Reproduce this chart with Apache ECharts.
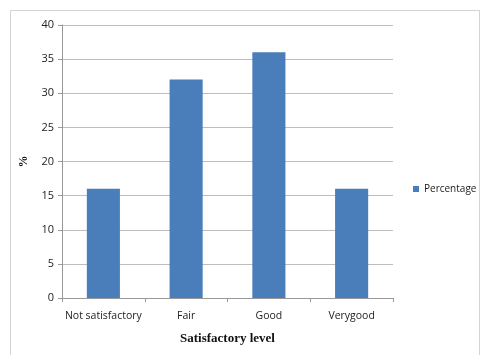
<!DOCTYPE html>
<html>
<head>
<meta charset="utf-8">
<script src="https://cdn.jsdelivr.net/npm/echarts@6/dist/echarts.min.js"></script>
<style>
  html, body { margin: 0; padding: 0; background: #fff; }
  #frame { position: absolute; left: 10px; top: 10px; width: 470px; height: 350px; border: 1px solid #d4d4d4; box-sizing: border-box; }
  #chart { position: absolute; left: 0; top: 0; width: 481px; height: 355px; }
</style>
</head>
<body>
<div id="frame"></div>
<div id="chart"></div>
<script>
const categories = ['Not satisfactory', 'Fair', 'Good', 'Verygood'];
const percentage = [16, 32, 36, 16];
const yTicks = { min: 0, max: 40, interval: 5 };

const chart = echarts.init(document.getElementById('chart'), null, { renderer: 'canvas' });
chart.setOption({
  animation: false,
  backgroundColor: 'transparent',
  textStyle: { fontFamily: '"Open Sans", "Noto Sans", sans-serif' },
  grid: { left: 62, right: 88, top: 25, bottom: 57 },
  legend: {
    data: ['Percentage'],
    left: 408, top: 179,
    itemWidth: 6, itemHeight: 6, itemGap: 3,
    icon: 'rect',
    textStyle: { fontSize: 10, color: '#222' }
  },
  xAxis: {
    type: 'category',
    data: categories,
    name: 'Satisfactory level',
    nameLocation: 'middle',
    nameGap: 34,
    nameTextStyle: { fontFamily: '"Liberation Serif", "DejaVu Serif", serif', fontWeight: 'bold', fontSize: 13, color: '#111' },
    axisLine: { lineStyle: { color: '#999' } },
    axisTick: { show: true, length: 4, lineStyle: { color: '#999' } },
    axisLabel: { interval: 0, fontSize: 10.5, color: '#222', margin: 13 }
  },
  yAxis: {
    type: 'value',
    min: yTicks.min, max: yTicks.max, interval: yTicks.interval,
    name: '%',
    nameLocation: 'middle',
    nameGap: 32,
    nameRotate: 90,
    nameTextStyle: { fontFamily: '"Liberation Serif", "DejaVu Serif", serif', fontWeight: 'bold', fontSize: 12, color: '#111' },
    axisLine: { show: true, lineStyle: { color: '#999' } },
    axisTick: { show: true, length: 4, lineStyle: { color: '#999' } },
    axisLabel: { fontSize: 11, color: '#222', margin: 8 },
    splitLine: { lineStyle: { color: '#bdbdbd' } }
  },
  series: [{
    name: 'Percentage',
    type: 'bar',
    data: percentage,
    barWidth: '40%',
    itemStyle: { color: '#4a7ebb' }
  }]
});
</script>
</body>
</html>
